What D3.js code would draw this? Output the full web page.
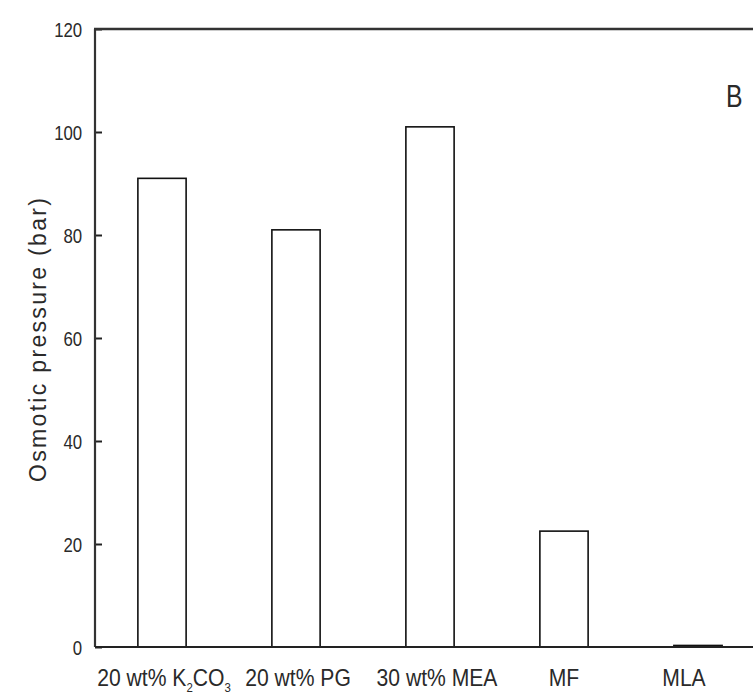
<!DOCTYPE html>
<html>
<head>
<meta charset="utf-8">
<script src="https://cdn.jsdelivr.net/npm/d3@7"></script>
<style>
  body { margin: 0; background: #fff; }
  svg { display: block; }
  text { font-family: "Liberation Sans", Arial, sans-serif; fill: #2a2a2a; }
</style>
</head>
<body>
<script>
const categories = ['K2CO3', 'PG', 'MEA', 'MF', 'MLA']
const values = [91, 81, 101, 22.5, 0.3]
const yTicks = [0, 20, 40, 60, 80, 100, 120]

const W = 753
const H = 698
const margin = { top: 29, right: -12, bottom: 51, left: 95 }
const narrow = 0.8

const svg = d3.select('body').append('svg')
  .attr('width', W)
  .attr('height', H)

const x = d3.scaleBand()
  .domain(categories)
  .range([margin.left, W - margin.right])
  .paddingInner(0.64)
  .paddingOuter(0.32)

const y = d3.scaleLinear()
  .domain([0, 120])
  .range([H - margin.bottom, margin.top])

// bars
svg.selectAll('.bar').data(values)
  .enter().append('rect')
  .attr('class', 'bar')
  .attr('x', (d, i) => x(categories[i]))
  .attr('y', d => y(d))
  .attr('width', x.bandwidth())
  .attr('height', d => Math.max(0.5, y(0) - y(d)))
  .attr('fill', '#fff')
  .attr('stroke', '#111')
  .attr('stroke-width', 1.6)

// y axis, ticks point inward
const yAxis = d3.axisLeft(y).tickValues(yTicks).tickSize(-7).tickPadding(16)
const gy = svg.append('g')
  .attr('transform', `translate(${margin.left},0)`)
  .call(yAxis)
gy.select('.domain').remove()
gy.selectAll('.tick line').attr('stroke', '#222').attr('stroke-width', 2)
gy.selectAll('.tick text')
  .style('font-size', '21px')
  .style('font-family', '"Liberation Sans", Arial, sans-serif')
  .attr('fill', '#333')
  .attr('dy', '0.36em')
  .attr('transform', `scale(${narrow},1)`)

// frame: left, bottom, top
svg.append('line')
  .attr('x1', margin.left).attr('x2', margin.left)
  .attr('y1', y(120)).attr('y2', y(0))
  .attr('stroke', '#333').attr('stroke-width', 2.2)
svg.append('line')
  .attr('x1', margin.left).attr('x2', W)
  .attr('y1', y(0)).attr('y2', y(0))
  .attr('stroke', '#222').attr('stroke-width', 2.2)
svg.append('line')
  .attr('x1', margin.left - 1).attr('x2', W)
  .attr('y1', y(120)).attr('y2', y(120))
  .attr('stroke', '#333').attr('stroke-width', 2.4)

// x labels
const labelY = y(0) + 39
const nudge = { K2CO3: 2, PG: 2, MEA: 7, MF: 0, MLA: -14 }
const lbl = svg.append('g').style('font-size', '24px')

const place = c => `translate(${x(c) + x.bandwidth() / 2 + nudge[c]},${labelY}) scale(0.88,1)`

const k = lbl.append('text')
  .attr('transform', place('K2CO3'))
  .attr('text-anchor', 'middle')
k.append('tspan').text('20 wt% K')
k.append('tspan').text('2').attr('dy', 6).style('font-size', '13px')
k.append('tspan').text('CO').attr('dy', -6)
k.append('tspan').text('3').attr('dy', 6).style('font-size', '13px')

const plain = { PG: '20 wt% PG', MEA: '30 wt% MEA', MF: 'MF', MLA: 'MLA' }
Object.keys(plain).forEach(c => {
  lbl.append('text')
    .attr('transform', place(c))
    .attr('text-anchor', 'middle')
    .text(plain[c])
})

// y title
svg.append('text')
  .attr('transform', `translate(46,340) rotate(-90)`)
  .attr('text-anchor', 'middle')
  .attr('textLength', 284)
  .attr('lengthAdjust', 'spacing')
  .style('font-size', '23px')
  .attr('fill', '#3a3a3a')
  .text('Osmotic pressure (bar)')

// panel letter
svg.append('text')
  .attr('transform', 'translate(726,107) scale(0.8,1)')
  .style('font-size', '31px')
  .text('B')
</script>
</body>
</html>
